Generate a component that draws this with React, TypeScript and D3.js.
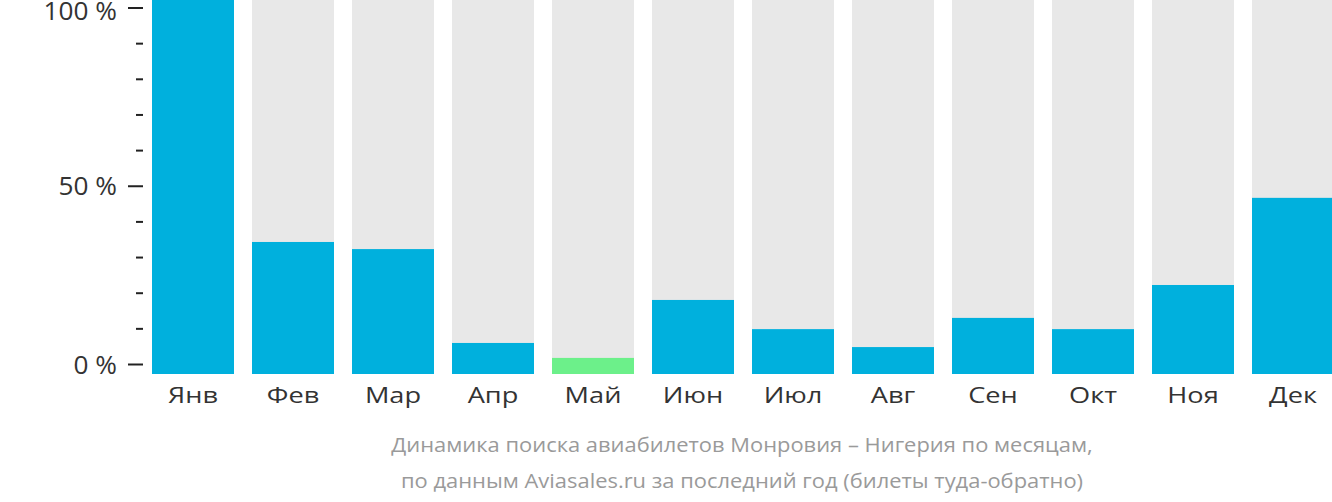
import React, { useLayoutEffect, useRef, useState } from "react";
import * as d3 from "d3";

const months = ["Янв", "Фев", "Мар", "Апр", "Май", "Июн", "Июл", "Авг", "Сен", "Окт", "Ноя", "Дек"];
const values = [100, 35.3, 33.4, 8.3, 4.3, 19.8, 12.0, 7.2, 15.0, 12.0, 23.8, 47.1];
const lowestMonth = "Май";
const majorTicks = [0, 50, 100];
const minorTicks = [10, 20, 30, 40, 60, 70, 80, 90];
const titleLines = [
  "Динамика поиска авиабилетов Монровия – Нигерия по месяцам,",
  "по данным Aviasales.ru за последний год (билеты туда-обратно)",
];

const W = 1332;
const H = 502;
const FONT = "'Open Sans', sans-serif";

export default function App() {
  const x = d3.scaleBand<string>().domain(months).range([143, 1343]).paddingInner(0.18).paddingOuter(0.09);
  const yBar = d3.scaleLinear().domain([0, 100]).range([374, 0]);
  const yAxis = d3.scaleLinear().domain([0, 100]).range([364.5, 8]);

  const monthRef = useRef<SVGTextElement>(null);
  const axisRef = useRef<SVGTextElement>(null);
  const titleRef = useRef<SVGTextElement>(null);
  const [k, setK] = useState({ m: 1, a: 1, t: 1 });

  useLayoutEffect(() => {
    const m = monthRef.current ? 50 / monthRef.current.getComputedTextLength() : 1;
    const a = axisRef.current ? 58.5 / axisRef.current.getComputedTextLength() : 1;
    const t = titleRef.current ? 702 / titleRef.current.getComputedTextLength() : 1;
    setK({ m, a, t });
  }, []);

  return (
    <svg width={W} height={H} style={{ position: "absolute", left: 0, top: 0 }}>
      {months.map((m, i) => (
        <g key={m}>
          <rect x={x(m)} y={yBar(100)} width={x.bandwidth()} height={yBar(0) - yBar(100)} fill="#e8e8e8" />
          <rect
            x={x(m)}
            y={yBar(values[i])}
            width={x.bandwidth()}
            height={yBar(0) - yBar(values[i])}
            fill={m === lowestMonth ? "#6cf08a" : "#00b0dd"}
          />
          <g transform={`translate(${(x(m) as number) + x.bandwidth() / 2},403) scale(${k.m},1)`}>
            <text ref={i === 0 ? monthRef : undefined} x={0} y={0} textAnchor="middle" fontFamily={FONT} fontSize={22} fill="#333">
              {m}
            </text>
          </g>
        </g>
      ))}
      {majorTicks.map((t) => (
        <g key={"M" + t}>
          <line x1={128} x2={143} y1={yAxis(t)} y2={yAxis(t)} stroke="#222" strokeWidth={2} />
          <g transform={`translate(117,${Math.max(yAxis(t) + 9, 19.5)}) scale(${k.a},1)`}>
            <text ref={t === 50 ? axisRef : undefined} x={0} y={0} textAnchor="end" fontFamily={FONT} fontSize={25} fill="#333">
              {t} %
            </text>
          </g>
        </g>
      ))}
      {minorTicks.map((t) => (
        <line key={"m" + t} x1={136} x2={143} y1={yAxis(t)} y2={yAxis(t)} stroke="#222" strokeWidth={2} />
      ))}
      {titleLines.map((l, i) => (
        <g key={i} transform={`translate(742,${452 + i * 36}) scale(${k.t},1)`}>
          <text ref={i === 0 ? titleRef : undefined} x={0} y={0} textAnchor="middle" fontFamily={FONT} fontSize={20} fill="#9a9a9a">
            {l}
          </text>
        </g>
      ))}
    </svg>
  );
}
